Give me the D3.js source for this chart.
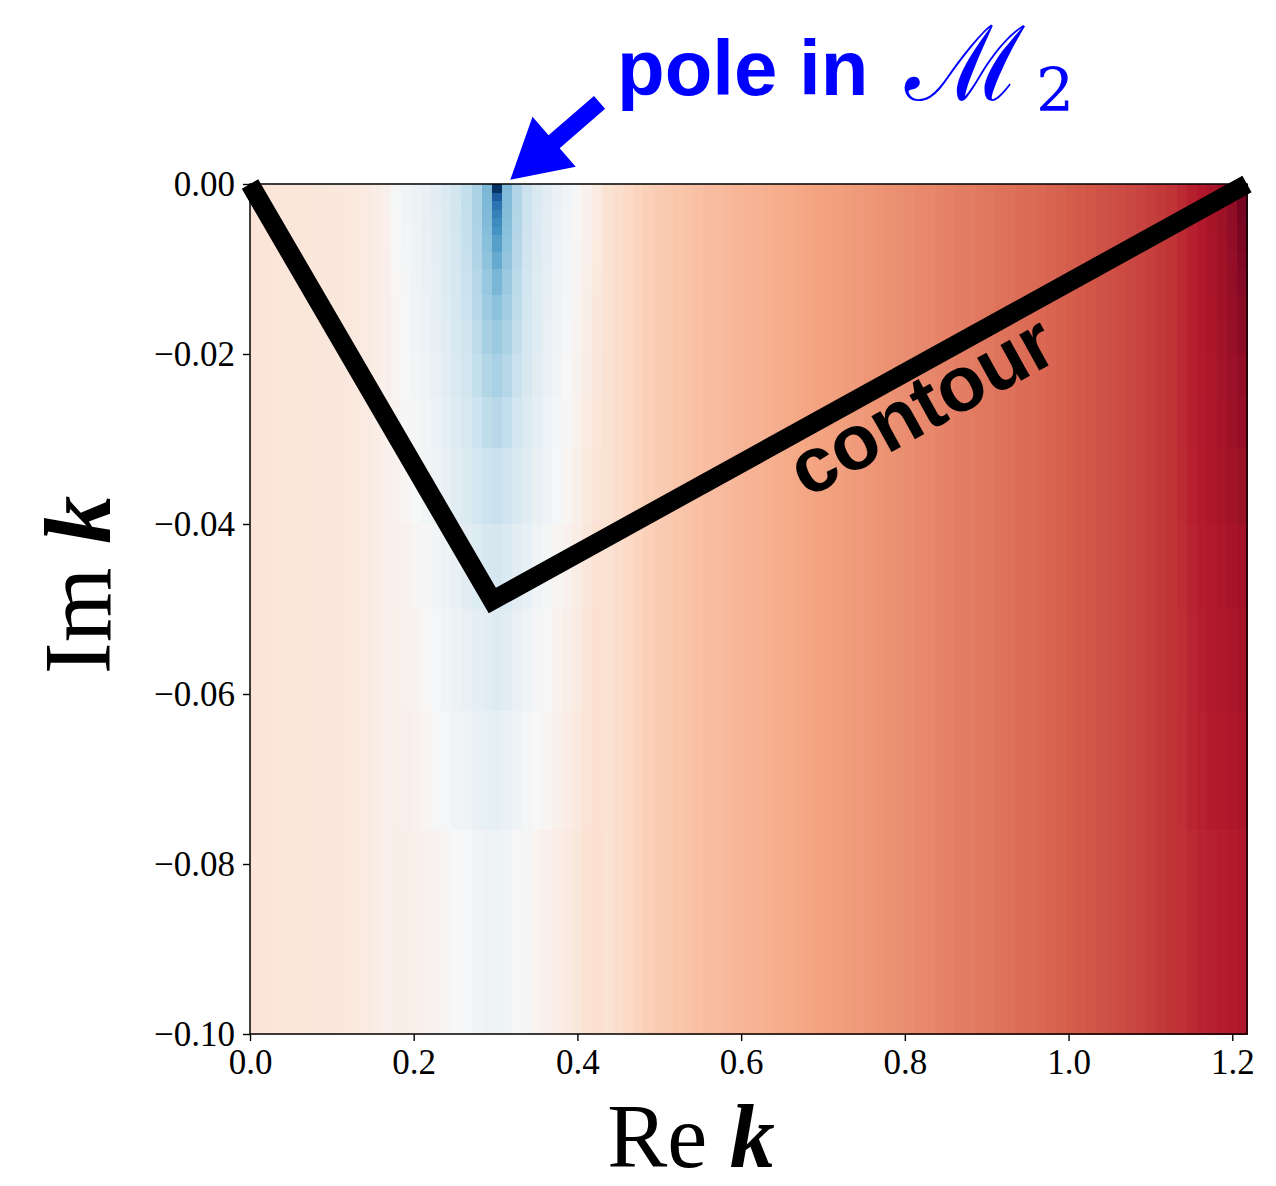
<!DOCTYPE html>
<html>
<head>
<meta charset="utf-8">
<script src="https://cdn.jsdelivr.net/npm/d3@7"></script>
<style>
  html, body { margin: 0; padding: 0; background: #fff; }
  svg { display: block; }
</style>
</head>
<body>
<svg id="chart" width="1276" height="1186"></svg>
<script>
// ---- Domain of the map: Re k along x, Im k along y ----
const RE_MAX = 1.218;
const IM_MIN = -0.1;
const N_COLS = 99;                       // cells across Re k

const xTicks = [0, 0.2, 0.4, 0.6, 0.8, 1.0, 1.2];
const yTicks = [0, -0.02, -0.04, -0.06, -0.08, -0.10];

// Colour level (0 = deep blue, 0.5 = white, 1 = deep red) of each Re k column,
// used where the column does not change with Im k.
const columnLevels = [
  0.563, 0.563, 0.562, 0.561, 0.560, 0.560, 0.558, 0.557, 0.555, 0.553,
  0.550, 0.545, 0.537, 0.526, 0.530, 0.528, 0.524, 0.519, 0.514, 0.506,
  0.499, 0.494, 0.490, 0.489, 0.490, 0.494, 0.500, 0.510, 0.522, 0.535,
  0.547, 0.558, 0.568, 0.578, 0.586, 0.572, 0.588, 0.602, 0.612, 0.621,
  0.628, 0.634, 0.639, 0.645, 0.650, 0.655, 0.660, 0.664, 0.668, 0.672,
  0.676, 0.680, 0.684, 0.689, 0.694, 0.699, 0.703, 0.706, 0.709, 0.712,
  0.716, 0.720, 0.724, 0.728, 0.732, 0.736, 0.740, 0.744, 0.748, 0.752,
  0.756, 0.760, 0.764, 0.768, 0.772, 0.776, 0.780, 0.784, 0.788, 0.793,
  0.799, 0.804, 0.809, 0.814, 0.819, 0.823, 0.828, 0.833, 0.839, 0.846,
  0.853, 0.861, 0.870, 0.878, 0.888, 0.897, 0.908, 0.920, 0.940
];

// Im k band edges for the columns that vary with depth
const bandEdges = [0, -0.001, -0.002, -0.003, -0.004, -0.005, -0.006, -0.008, -0.010,
  -0.013, -0.016, -0.020, -0.025, -0.031, -0.040, -0.050, -0.062, -0.076, -0.100];

// Levels around the pole at Re k = 0.30: columns 14..34, one row per band
const POLE_FIRST_COL = 14;
const poleLevels = [
  [0.497,0.483,0.472,0.460,0.445,0.426,0.405,0.378,0.339,0.272,0.005,0.277,0.349,0.391,0.421,0.445,0.466,0.484,0.502,0.523,0.543],
  [0.498,0.484,0.473,0.461,0.446,0.427,0.406,0.379,0.340,0.274,0.081,0.279,0.350,0.392,0.422,0.446,0.467,0.485,0.503,0.524,0.544],
  [0.498,0.485,0.473,0.461,0.446,0.428,0.407,0.380,0.341,0.276,0.128,0.281,0.351,0.393,0.423,0.447,0.467,0.485,0.503,0.525,0.544],
  [0.499,0.485,0.474,0.462,0.447,0.428,0.407,0.381,0.342,0.278,0.158,0.283,0.352,0.394,0.423,0.447,0.468,0.486,0.504,0.525,0.545],
  [0.500,0.486,0.475,0.463,0.448,0.429,0.409,0.382,0.343,0.281,0.182,0.286,0.353,0.395,0.425,0.448,0.469,0.487,0.505,0.526,0.546],
  [0.500,0.486,0.475,0.463,0.448,0.430,0.409,0.382,0.344,0.284,0.200,0.289,0.354,0.395,0.425,0.449,0.469,0.487,0.505,0.526,0.546],
  [0.501,0.487,0.476,0.464,0.449,0.431,0.410,0.384,0.346,0.289,0.223,0.294,0.356,0.397,0.426,0.450,0.470,0.488,0.506,0.527,0.547],
  [0.502,0.488,0.477,0.465,0.450,0.432,0.412,0.386,0.349,0.297,0.246,0.302,0.359,0.399,0.428,0.451,0.471,0.489,0.507,0.528,0.548],
  [0.504,0.491,0.479,0.467,0.453,0.435,0.415,0.389,0.355,0.308,0.270,0.313,0.365,0.402,0.431,0.454,0.474,0.491,0.509,0.531,0.550],
  [0.506,0.493,0.482,0.470,0.455,0.438,0.418,0.394,0.361,0.321,0.293,0.326,0.371,0.407,0.434,0.457,0.476,0.494,0.512,0.533,0.552],
  [0.509,0.495,0.484,0.472,0.458,0.441,0.422,0.399,0.369,0.335,0.315,0.340,0.379,0.412,0.438,0.460,0.479,0.496,0.514,0.535,0.555],
  [0.512,0.498,0.487,0.476,0.462,0.445,0.427,0.406,0.380,0.352,0.337,0.357,0.390,0.419,0.443,0.464,0.483,0.500,0.517,0.538,0.558],
  [0.516,0.503,0.492,0.481,0.468,0.452,0.435,0.416,0.393,0.371,0.360,0.376,0.403,0.429,0.451,0.471,0.489,0.505,0.522,0.543,0.562],
  [0.521,0.509,0.498,0.488,0.475,0.460,0.445,0.429,0.410,0.394,0.386,0.399,0.420,0.442,0.461,0.479,0.496,0.512,0.528,0.549,0.567],
  [0.526,0.517,0.507,0.497,0.486,0.473,0.460,0.446,0.432,0.419,0.413,0.424,0.442,0.459,0.476,0.492,0.507,0.521,0.537,0.557,0.575],
  [0.529,0.523,0.514,0.505,0.495,0.483,0.473,0.462,0.451,0.441,0.436,0.446,0.461,0.475,0.489,0.502,0.516,0.529,0.544,0.563,0.579],
  [0.531,0.528,0.520,0.512,0.503,0.493,0.484,0.476,0.467,0.459,0.455,0.464,0.477,0.489,0.500,0.512,0.524,0.536,0.550,0.568,0.582],
  [0.533,0.531,0.526,0.520,0.514,0.506,0.499,0.494,0.487,0.480,0.477,0.485,0.497,0.507,0.516,0.525,0.535,0.546,0.558,0.575,0.586]
];

// Levels at the right edge: columns 92..98, one row per band
const EDGE_FIRST_COL = 92;
const edgeLevels = [
  [0.876,0.890,0.901,0.913,0.926,0.945,0.984],
  [0.876,0.890,0.901,0.913,0.926,0.944,0.983],
  [0.876,0.890,0.901,0.913,0.926,0.944,0.982],
  [0.876,0.890,0.901,0.913,0.926,0.944,0.980],
  [0.876,0.890,0.901,0.913,0.926,0.944,0.977],
  [0.876,0.890,0.901,0.913,0.926,0.943,0.975],
  [0.876,0.890,0.901,0.912,0.925,0.943,0.971],
  [0.876,0.890,0.901,0.912,0.925,0.941,0.966],
  [0.876,0.890,0.901,0.912,0.924,0.940,0.961],
  [0.876,0.890,0.900,0.911,0.923,0.937,0.955],
  [0.875,0.890,0.900,0.911,0.922,0.934,0.950],
  [0.875,0.889,0.899,0.909,0.920,0.931,0.943],
  [0.875,0.888,0.898,0.908,0.917,0.926,0.937],
  [0.874,0.887,0.896,0.905,0.913,0.921,0.930],
  [0.872,0.885,0.894,0.902,0.909,0.915,0.923],
  [0.870,0.883,0.891,0.898,0.904,0.910,0.917],
  [0.868,0.880,0.887,0.894,0.899,0.904,0.911],
  [0.865,0.876,0.883,0.888,0.893,0.897,0.903]
];

// Integration contour in the complex k plane
const contourPath = [
  { re: 0.0,   im: 0.0 },
  { re: 0.296, im: -0.049 },
  { re: 1.218, im: 0.0 }
];

// Arrow pointing at the pole (tail near the caption, tip at the real axis)
const arrowTail = { re: 0.427, im: 0.0096 };
const arrowTip  = { re: 0.318, im: 0.0005 };

// Diverging palette, blue (low) to red (high)
const RdBuR = ["#053061", "#2166ac", "#4393c3", "#92c5de", "#d1e5f0", "#f7f7f7",
               "#fddbc7", "#f4a582", "#d6604d", "#b2182b", "#67001f"];

// ---- Scales ----
const svg = d3.select("#chart");
const x = d3.scaleLinear().domain([0, RE_MAX]).range([250, 1247]);
const y = d3.scaleLinear().domain([IM_MIN, 0]).range([1034, 184]);
const color = d3.scaleLinear()
  .domain(d3.range(RdBuR.length).map(i => i / (RdBuR.length - 1)))
  .range(RdBuR)
  .interpolate(d3.interpolateRgb)
  .clamp(true);

// ---- Heat-map cells ----
const colEdges = d3.range(N_COLS + 1).map(i => i * RE_MAX / N_COLS);
const cells = [];
for (let c = 0; c < N_COLS; c++) {
  const re0 = colEdges[c], re1 = colEdges[c + 1];
  const p = c - POLE_FIRST_COL, e = c - EDGE_FIRST_COL;
  if (p >= 0 && p < poleLevels[0].length) {
    poleLevels.forEach((row, b) => cells.push({ re0, re1, im0: bandEdges[b], im1: bandEdges[b + 1], level: row[p] }));
  } else if (e >= 0 && e < edgeLevels[0].length) {
    edgeLevels.forEach((row, b) => cells.push({ re0, re1, im0: bandEdges[b], im1: bandEdges[b + 1], level: row[e] }));
  } else {
    cells.push({ re0, re1, im0: 0, im1: IM_MIN, level: columnLevels[c] });
  }
}

svg.append("g")
  .attr("shape-rendering", "crispEdges")
  .selectAll("rect")
  .data(cells)
  .join("rect")
  .attr("x", d => x(d.re0))
  .attr("y", d => y(d.im0))
  .attr("width", d => x(d.re1) - x(d.re0) + 0.6)
  .attr("height", d => y(d.im1) - y(d.im0) + 0.6)
  .attr("fill", d => color(d.level));

// ---- Axes ----
const tickFont = "'Liberation Serif', 'DejaVu Serif', serif";

const gx = svg.append("g")
  .attr("transform", `translate(0,${y(IM_MIN)})`)
  .call(d3.axisBottom(x).tickValues(xTicks).tickFormat(d3.format(".1f")).tickSize(7).tickPadding(8));
const gy = svg.append("g")
  .attr("transform", `translate(${x(0)},0)`)
  .call(d3.axisLeft(y).tickValues(yTicks).tickFormat(d3.format(".2f")).tickSize(7).tickPadding(8));

[gx, gy].forEach(g => {
  g.select(".domain").remove();
  g.selectAll(".tick line").attr("stroke", "#000").attr("stroke-width", 1.4);
  g.selectAll(".tick text")
    .attr("fill", "#000")
    .style("font-family", tickFont)
    .style("font-size", "35px");
});

// Frame
svg.append("rect")
  .attr("x", x(0)).attr("y", y(0))
  .attr("width", x(RE_MAX) - x(0)).attr("height", y(IM_MIN) - y(0))
  .attr("fill", "none").attr("stroke", "#000").attr("stroke-width", 1.5);

// ---- Contour ----
const line = d3.line().x(d => x(d.re)).y(d => y(d.im));
svg.append("path")
  .datum(contourPath)
  .attr("d", line)
  .attr("fill", "none")
  .attr("stroke", "#000")
  .attr("stroke-width", 19)
  .attr("stroke-linejoin", "miter")
  .attr("stroke-linecap", "butt");

// Label along the right leg of the contour
const legA = contourPath[1], legB = contourPath[2];
const ang = Math.atan2(y(legB.im) - y(legA.im), x(legB.re) - x(legA.re)) * 180 / Math.PI;
const tLab = 0.545;
const labRe = legA.re + (legB.re - legA.re) * tLab;
const labIm = legA.im + (legB.im - legA.im) * tLab;
svg.append("text")
  .attr("transform", `translate(${x(labRe)},${y(labIm)}) rotate(${ang})`)
  .attr("x", 0).attr("y", 63)
  .attr("text-anchor", "middle")
  .style("font-family", "'Liberation Sans', Arial, sans-serif")
  .style("font-weight", "bold")
  .style("font-size", "78px")
  .attr("fill", "#000")
  .text("contour");

// ---- Arrow to the pole ----
{
  const tx = x(arrowTail.re), ty = y(arrowTail.im);
  const px = x(arrowTip.re),  py = y(arrowTip.im);
  const L = Math.hypot(px - tx, py - ty);
  const ux = (px - tx) / L, uy = (py - ty) / L;
  const nx = -uy, ny = ux;
  const sw = 17, hl = 58, hw = 66;
  const bx = px - ux * hl, by = py - uy * hl;
  const pts = [
    [tx + nx * sw / 2, ty + ny * sw / 2],
    [bx + nx * sw / 2, by + ny * sw / 2],
    [bx + nx * hw / 2, by + ny * hw / 2],
    [px, py],
    [bx - nx * hw / 2, by - ny * hw / 2],
    [bx - nx * sw / 2, by - ny * sw / 2],
    [tx - nx * sw / 2, ty - ny * sw / 2]
  ];
  svg.append("polygon")
    .attr("points", pts.map(p => p.join(",")).join(" "))
    .attr("fill", "#0000ff");
}

// Caption of the arrow
svg.append("text")
  .attr("x", 617).attr("y", 95)
  .style("font-family", "'Liberation Sans', Arial, sans-serif")
  .style("font-weight", "bold")
  .style("font-size", "78px")
  .attr("fill", "#0000ff")
  .text("pole in");
svg.append("text")
  .attr("x", 905).attr("y", 100)
  .style("font-family", "'DejaVu Serif', serif")
  .style("font-size", "104px")
  .attr("fill", "#0000ff")
  .text("\u2133");
svg.append("text")
  .attr("x", 1036).attr("y", 111)
  .style("font-family", "'DejaVu Serif', serif")
  .style("font-size", "60px")
  .attr("fill", "#0000ff")
  .text("2");

// ---- Axis titles ----
const titleFont = "'Liberation Serif', 'DejaVu Serif', serif";
const xTitle = svg.append("text")
  .attr("x", 691).attr("y", 1167)
  .attr("text-anchor", "middle")
  .style("font-family", titleFont)
  .style("font-size", "90px")
  .attr("fill", "#000");
xTitle.append("tspan").text("Re ");
xTitle.append("tspan").style("font-style", "italic").style("font-weight", "bold").text("k");

const yTitle = svg.append("text")
  .attr("transform", "translate(110,585) rotate(-90)")
  .attr("text-anchor", "middle")
  .style("font-family", titleFont)
  .style("font-size", "96px")
  .attr("fill", "#000");
yTitle.append("tspan").text("Im ");
yTitle.append("tspan").style("font-style", "italic").style("font-weight", "bold").text("k");
</script>
</body>
</html>
